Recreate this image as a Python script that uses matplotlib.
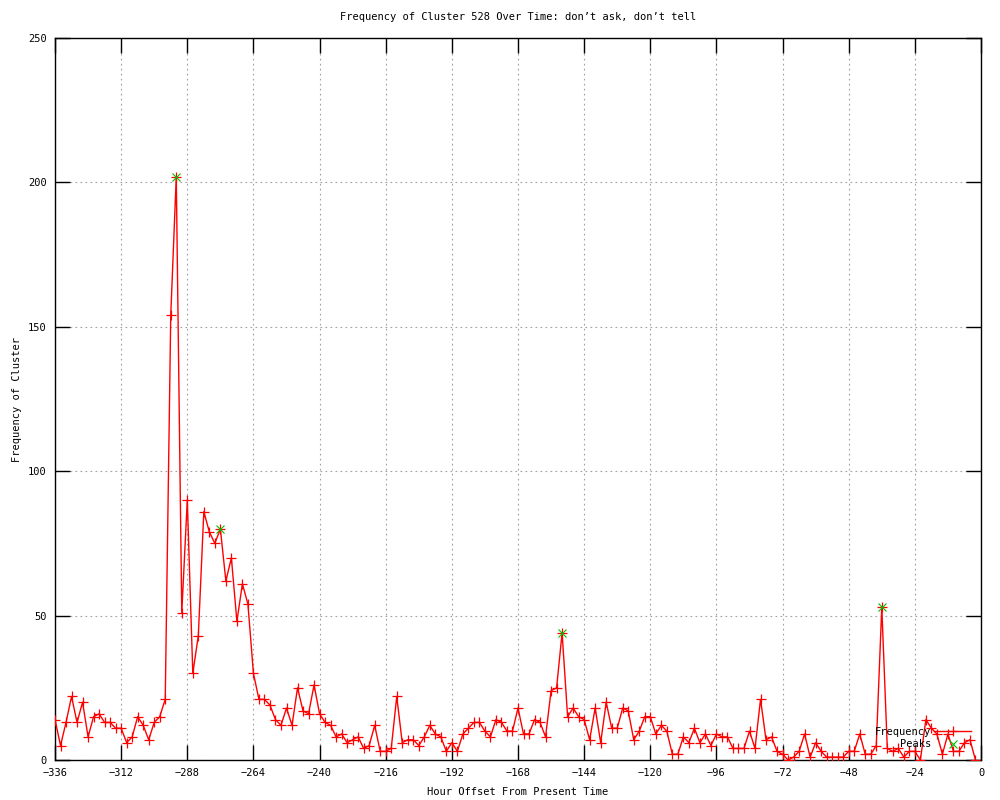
#!/usr/bin/env python
# -*- coding: utf-8 -*-

'''
Frequency of cluster 528 over the last two weeks (gnuplot look)
'''

import matplotlib
matplotlib.use('Agg')
import matplotlib.pyplot as plt

# horas relativas ao momento atual (passo de 2 h)
horas = list(range(-336, 0, 2))
freq = [14, 5, 13, 22, 13, 20, 8, 15, 16, 13,
        13, 11, 11, 6, 8, 15, 12, 7, 13, 15,
        21, 154, 202, 51, 90, 30, 43, 86, 79, 75,
        80, 62, 70, 48, 61, 54, 30, 21, 21, 19,
        14, 12, 18, 12, 25, 17, 16, 26, 16, 13,
        12, 8, 9, 6, 7, 8, 4, 5, 12, 3,
        3, 4, 22, 6, 7, 7, 5, 8, 12, 9,
        8, 3, 6, 3, 9, 11, 13, 13, 10, 8,
        14, 13, 10, 10, 18, 9, 9, 14, 13, 8,
        24, 25, 44, 15, 18, 15, 14, 7, 18, 6,
        20, 11, 11, 18, 17, 7, 10, 15, 15, 9,
        12, 10, 2, 2, 8, 6, 11, 6, 9, 5,
        9, 8, 8, 4, 4, 4, 10, 4, 21, 7,
        8, 3, 2, 0, 1, 3, 9, 1, 6, 3,
        1, 1, 1, 1, 3, 3, 9, 2, 2, 5,
        53, 4, 3, 4, 1, 3, 3, 0, 14, 11,
        9, 2, 9, 3, 3, 6, 7, 0]

# picos marcados
picos_h = [-292, -276, -152, -36]
picos_v = [202, 80, 44, 53]

x_ticks = list(range(-336, 1, 24))
y_ticks = [0, 50, 100, 150, 200, 250]

titulo = 'Frequency of Cluster 528 Over Time: don\u2019t ask, don\u2019t tell'


def plot():
    plt.rcParams['font.family'] = ['DejaVu Sans Mono']
    fs = 7.5
    fig = plt.figure(figsize=(10, 8), dpi=100)
    ax = fig.add_axes([0.055, 0.05, 0.926, 0.9025])

    # linha + pontos
    ax.plot(horas, freq, color='#ff0000', linewidth=1.0, marker='+',
            markersize=7.5, markeredgewidth=0.9, label='Frequency',
            clip_on=True, zorder=3)
    ax.plot(picos_h, picos_v, linestyle='none', marker='x', color='#00c000',
            markersize=6, markeredgewidth=0.8, label='Peaks', zorder=4)

    ax.set_xlim(-336, 0)
    ax.set_ylim(0, 250)
    ax.set_xticks(x_ticks)
    ax.set_yticks(y_ticks)
    ax.tick_params(direction='in', length=11, width=1, top=True, right=True,
                   labelsize=fs, pad=6)
    for s in ax.spines.values():
        s.set_linewidth(1.0)

    ax.grid(True, color='#a0a0a0', linestyle=(0, (1.5, 3)), linewidth=0.8)
    ax.set_axisbelow(True)

    ax.set_title(titulo, fontsize=fs, pad=13)
    ax.set_xlabel('Hour Offset From Present Time', fontsize=fs, labelpad=6)
    ax.set_ylabel('Frequency of Cluster', fontsize=fs, labelpad=4)

    # legenda no canto inferior direito, texto antes da amostra
    leg = ax.legend(loc='lower right', bbox_to_anchor=(0.989, 0.015),
                    frameon=False, markerfirst=False, fontsize=fs,
                    handlelength=3.5, handletextpad=0.3, labelspacing=0.25,
                    borderpad=0, borderaxespad=0)
    for t in leg.get_texts():
        t.set_ha('right')

    fig.savefig('out.png', dpi=100)


if __name__ == '__main__':
    plot()
